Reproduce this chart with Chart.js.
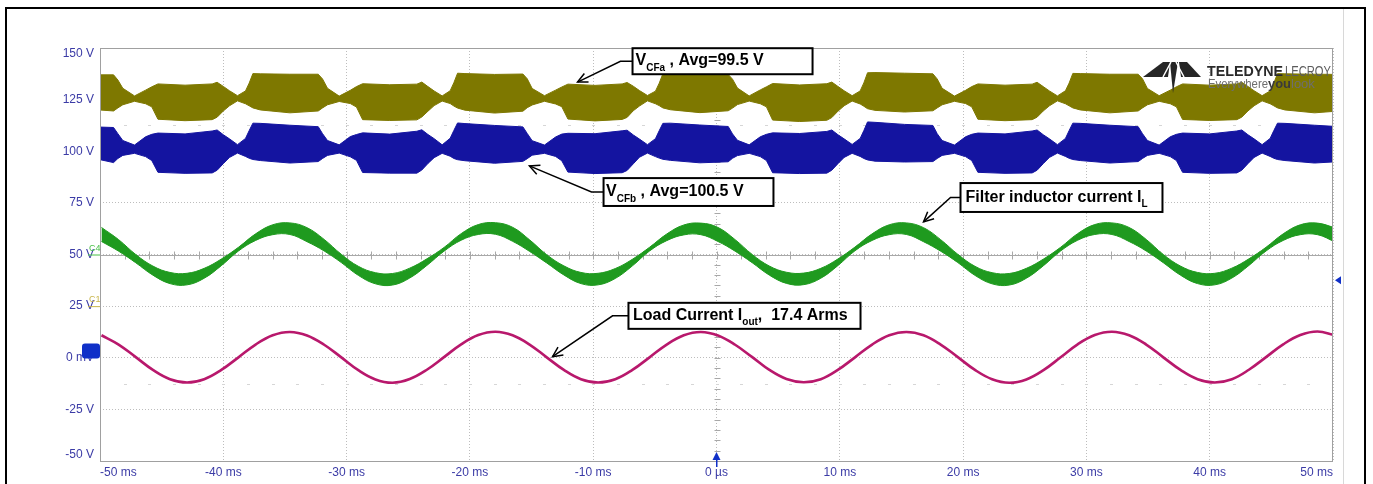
<!DOCTYPE html>
<html><head><meta charset="utf-8">
<script src="https://cdn.jsdelivr.net/npm/chart.js@4.4.1/dist/chart.umd.min.js"></script>
<style>html,body{margin:0;padding:0;background:#fff;}canvas{display:block}</style>
</head><body>
<canvas id="c" width="1373" height="484"></canvas>
<script>
// ---------- tick labels ----------
const xTickLabels = ["-50 ms","-40 ms","-30 ms","-20 ms","-10 ms","0 µs","10 ms","20 ms","30 ms","40 ms","50 ms"];
const yTickLabels = ["-50 V","-25 V","0 mV","25 V","50 V","75 V","100 V","125 V","150 V"];

// ---------- flying-capacitor voltage envelopes (time in ms, volts) ----------
const envT = [-50.5,-48.9,-48.55,-48.15,
 -47.2,-46.3,-45.8,-45.3,-43.1,-40.9,-40.5,-40.0,-39.5,-38.85,-38.2,-37.9,-37.6,-37.0,-34.6,-32.3,-31.95,-31.55,
 -30.6,-29.7,-29.2,-28.7,-26.5,-24.3,-23.9,-23.4,-22.9,-22.25,-21.6,-21.3,-21.0,-20.4,-18.0,-15.7,-15.35,-14.95,
 -13.95,-13.05,-12.55,-12.05,-9.85,-7.65,-7.25,-6.75,-6.25,-5.6,-4.95,-4.65,-4.35,-3.75,-1.35,0.95,1.3,1.7,
 2.65,3.55,4.05,4.55,6.75,8.95,9.35,9.85,10.35,11.0,11.65,11.95,12.25,12.85,15.25,17.55,17.9,18.3,
 19.3,20.2,20.7,21.2,23.4,25.6,26.0,26.5,27.0,27.65,28.3,28.6,28.9,29.5,31.9,34.2,34.55,34.95,
 35.9,36.8,37.3,37.8,40.0,42.2,42.6,43.1,43.6,44.25,44.9,45.2,45.5,46.1,48.5,50.5];
const cfaTop = [137.0,137.0,134.5,130.5,
 126.8,129.6,131.2,132.6,132.0,132.6,133.4,131.4,129.3,126.9,129.2,133.0,137.6,137.5,137.3,137.3,135.0,130.5,
 126.7,129.5,131.3,132.7,132.2,132.5,133.5,131.3,129.2,126.8,129.3,133.2,137.8,137.6,137.2,137.4,135.1,130.4,
 126.9,129.6,131.1,132.5,131.9,132.6,133.3,131.5,129.4,127.0,129.1,132.9,137.5,137.6,137.4,137.2,134.9,130.6,
 126.8,129.7,131.2,132.8,132.1,132.7,133.5,131.4,129.3,126.9,129.2,133.1,138.0,138.1,137.8,137.5,135.0,130.5,
 126.7,129.5,131.3,132.6,132.0,132.5,133.4,131.3,129.2,126.8,129.3,133.0,137.7,137.6,137.3,137.3,135.1,130.4,
 126.9,129.6,131.2,132.6,132.0,132.6,133.4,131.4,129.3,126.9,129.2,133.0,137.6,137.5,137.3,137.2];
const cfaBot = [120.2,119.5,121.0,122.5,
 124.2,123.0,121.5,115.5,114.8,115.3,116.5,119.5,122.0,124.4,123.0,122.0,121.0,120.0,118.6,119.5,121.0,122.5,
 124.1,123.1,121.4,115.3,114.9,115.2,116.6,119.4,122.1,124.3,123.1,121.9,120.9,119.9,118.5,119.4,121.1,122.4,
 124.2,122.9,121.6,115.6,114.7,115.4,116.4,119.6,121.9,124.4,123.0,122.1,121.0,120.1,118.7,119.6,120.9,122.6,
 124.3,123.0,121.5,115.1,114.4,115.0,116.3,119.4,122.0,124.3,122.9,121.8,120.6,119.8,119.0,119.6,121.0,122.5,
 124.2,123.1,121.5,115.5,114.8,115.3,116.5,119.5,122.0,124.4,123.0,122.0,121.0,120.0,118.6,119.5,121.0,122.5,
 124.2,123.0,121.5,115.4,114.9,115.3,116.5,119.5,122.0,124.4,123.0,122.0,121.0,120.0,118.6,119.5];
const cfbTop = [111.8,111.5,108.5,105.2,
 103.0,107.0,108.2,108.8,108.4,109.8,110.3,108.0,106.0,103.2,106.2,110.0,113.6,113.5,112.6,111.9,108.5,105.2,
 103.1,107.1,108.1,108.9,108.3,109.7,110.4,108.1,106.1,103.1,106.3,110.1,113.7,113.4,112.5,111.8,108.6,105.1,
 103.0,106.9,108.3,108.7,108.5,109.9,110.2,107.9,105.9,103.2,106.1,109.9,113.5,113.6,112.7,112.0,108.4,105.3,
 103.1,107.0,108.2,108.9,108.6,109.6,110.3,108.0,106.0,103.3,106.2,110.0,114.2,114.0,113.0,112.5,108.5,105.2,
 103.0,107.0,108.2,108.8,108.4,109.8,110.3,108.0,106.0,103.2,106.2,110.0,113.6,113.5,112.6,111.9,108.5,105.2,
 103.0,107.0,108.2,108.8,108.4,109.8,110.3,108.0,106.0,103.2,106.2,110.0,113.6,113.5,112.6,111.9];
const cfbBot = [96.6,94.5,96.5,98.0,
 99.0,97.4,95.5,89.8,89.3,89.5,90.8,94.0,97.0,99.1,97.5,96.6,96.0,95.5,94.3,95.0,96.5,98.0,
 99.1,97.3,95.6,89.7,89.4,89.4,90.9,94.1,96.9,99.0,97.6,96.5,95.9,95.4,94.2,95.1,96.4,98.1,
 99.0,97.5,95.4,89.9,89.2,89.6,90.7,93.9,97.1,99.1,97.4,96.7,96.1,95.6,94.4,94.9,96.6,97.9,
 99.0,97.4,95.5,89.6,89.2,89.4,90.8,94.0,97.0,99.0,97.5,96.5,95.8,95.2,94.8,95.0,96.5,98.0,
 99.0,97.4,95.5,89.8,89.3,89.5,90.8,94.0,97.0,99.1,97.5,96.6,96.0,95.5,94.3,95.0,96.5,98.0,
 99.0,97.4,95.5,89.8,89.3,89.5,90.8,94.0,97.0,99.1,97.5,96.6,96.0,95.5,94.3,95.0];

// ---------- sine-like traces (time in ms) ----------
const sineT = [-49.88,-48.49,-47.10,-45.71,-44.32,-42.94,-41.55,-40.16,-38.77,-37.38,-35.99,-34.60,
 -33.21,-31.82,-30.43,-29.05,-27.66,-26.27,-24.88,-23.49,-22.10,-20.71,-19.32,-17.93,
 -16.54,-15.16,-13.77,-12.38,-10.99,-9.60,-8.21,-6.82,-5.43,-4.04,-2.65,-1.27,
 0.12,1.51,2.90,4.29,5.68,7.07,8.46,9.84,11.23,12.62,14.01,15.40,
 16.79,18.18,19.57,20.96,22.35,23.74,25.13,26.52,27.91,29.29,30.68,32.07,
 33.46,34.85,36.24,37.63,39.02,40.41,41.80,43.18,44.57,45.96,47.35,48.74,50.13];
const loadI = [10.9,6.4,0.3,-5.9,-10.4,-12.0,-10.4,-5.9,0.2,6.4,10.9,12.5,
 10.8,6.3,0.2,-6.0,-10.5,-12.1,-10.3,-5.8,0.3,6.5,11.0,12.6,
 10.9,6.4,0.2,-5.9,-10.4,-12.0,-10.4,-5.9,0.2,6.4,10.9,12.5,
 10.8,6.3,0.3,-5.9,-10.3,-11.9,-10.4,-5.9,0.2,6.4,10.9,12.5,
 10.9,6.4,0.3,-5.9,-10.4,-12.1,-10.5,-6.0,0.2,6.5,11.0,12.6,
 10.9,6.4,0.2,-5.9,-10.4,-12.0,-10.4,-5.8,0.3,6.5,11.0,12.7,11.0];
const ilTop = [63.1,57.2,50.0,44.4,41.3,40.9,43.3,47.8,53.5,60.0,64.4,65.3,
 63.0,57.3,50.1,44.3,41.2,40.8,43.4,47.9,53.4,60.1,64.5,65.4,
 63.2,57.1,49.9,44.5,41.3,40.9,43.2,47.7,53.5,59.9,64.3,65.2,
 63.1,57.2,50.0,44.4,41.4,41.0,43.3,47.8,53.6,60.0,64.4,65.3,
 63.0,57.2,50.1,44.3,41.2,40.8,43.3,47.8,53.5,60.1,64.5,65.3,
 63.1,57.3,50.0,44.4,41.3,40.9,43.4,47.9,53.5,60.0,64.4,65.2,63.0];
const ilBot = [56.3,51.6,46.0,40.0,35.9,35.3,38.5,44.6,51.7,56.8,59.6,59.7,
 56.2,51.7,46.1,39.9,35.8,35.2,38.6,44.7,51.6,56.9,59.7,59.8,
 56.4,51.5,45.9,40.1,35.9,35.3,38.4,44.5,51.7,56.7,59.5,59.6,
 56.3,51.6,46.0,40.0,36.0,35.4,38.5,44.6,51.8,56.8,59.6,59.7,
 56.2,51.6,46.1,39.9,35.8,35.2,38.5,44.6,51.7,56.9,59.7,59.7,
 56.3,51.7,46.0,40.0,35.9,35.3,38.6,44.7,51.7,56.8,59.6,59.6,56.2];

// ---------- annotation texts ----------
const annotations = [
  {box:[-6.81,7.79,149.9,137.3], pad:3, elbowX:-7.79, head:[-11.27,133.5],
   parts:[{t:"V"},{t:"CFa",sub:true},{t:" , Avg=99.5 V"}]},
  {box:[-9.16,4.62,87.0,73.5], pad:2.5, elbowX:-10.14, head:[-15.17,92.9],
   parts:[{t:"V"},{t:"CFb",sub:true},{t:" , Avg=100.5 V"}]},
  {box:[19.79,36.17,84.6,70.6], pad:5, elbowX:18.98, head:[16.79,65.8],
   parts:[{t:"Filter inductor current I"},{t:"L",sub:true}]},
  {box:[-7.14,11.68,26.6,14.0], pad:4.5, elbowX:-8.43, head:[-13.3,0.5],
   parts:[{t:"Load Current I"},{t:"out",sub:true},{t:",  17.4 Arms"}]}
];

const pts = (xs, ys) => xs.map((x, i) => ({x: x, y: ys[i]}));
const FONT = '"Liberation Sans", Arial, sans-serif';
const OLIVE = '#7e7800', BLUE = '#1414a0', GREEN = '#1f9a1f', MAG = '#b8186c';
const AXC = '#3b3ba6';

const decor = {
  id: 'decor',
  beforeDatasetsDraw(chart) {
    const {ctx, chartArea: a, scales: {x, y}} = chart;
    ctx.save();
    ctx.strokeStyle = '#a8a8a8'; ctx.lineWidth = 1;
    const y50 = Math.round(y.getPixelForValue(50)) + 0.5;
    const x0 = Math.round(x.getPixelForValue(0)) + 0.5;
    ctx.beginPath(); ctx.moveTo(a.left, y50); ctx.lineTo(a.right, y50); ctx.stroke();
    ctx.beginPath();
    for (let t = -48; t < 50; t += 2) {
      const px = Math.round(x.getPixelForValue(t)) + 0.5;
      ctx.moveTo(px, y50 - 4); ctx.lineTo(px, y50 + 4);
    }
    for (let v = -45; v < 150; v += 5) {
      const py = Math.round(y.getPixelForValue(v)) + 0.5;
      ctx.moveTo(x0 - 3, py); ctx.lineTo(x0 + 3, py);
    }
    ctx.stroke();
    ctx.strokeStyle = '#d6d6d6';
    ctx.beginPath();
    [112.5, -12.5].forEach(v => {
      const py = Math.round(y.getPixelForValue(v)) + 0.5;
      for (let t = -48; t < 50; t += 2) {
        const px = Math.round(x.getPixelForValue(t)) + 0.5;
        ctx.moveTo(px - 1.5, py); ctx.lineTo(px + 1.5, py);
      }
    });
    ctx.stroke();
    ctx.restore();
  },
  afterDraw(chart) {
    const {ctx, chartArea: a, scales: {x, y}} = chart;
    const H = chart.height;
    ctx.save();
    ctx.strokeStyle = '#a0a0a0'; ctx.lineWidth = 1;
    ctx.strokeRect(a.left + 0.5, a.top + 0.5, a.right - a.left - 1, a.bottom - a.top);
    ctx.strokeStyle = '#d8d8d8';
    ctx.beginPath(); ctx.moveTo(1343.5, 8); ctx.lineTo(1343.5, H); ctx.stroke();
    ctx.fillStyle = '#000';
    ctx.fillRect(5, 7, 2, H - 7); ctx.fillRect(1364, 7, 2, H - 7);
    ctx.fillRect(5, 7, 1361, 2);

    ctx.fillStyle = '#1030c8';
    const my = y.getPixelForValue(3.5);
    ctx.beginPath(); ctx.roundRect(a.left - 18, my - 7, 18, 15, 3); ctx.fill();
    const ry = y.getPixelForValue(37.5);
    ctx.beginPath(); ctx.moveTo(a.right + 2, ry); ctx.lineTo(a.right + 8, ry - 4); ctx.lineTo(a.right + 8, ry + 4); ctx.closePath(); ctx.fill();
    const tx = x.getPixelForValue(0);
    ctx.beginPath(); ctx.moveTo(tx, a.bottom - 9); ctx.lineTo(tx - 4, a.bottom - 1); ctx.lineTo(tx + 4, a.bottom - 1); ctx.closePath(); ctx.fill();
    ctx.fillRect(tx - 0.5, a.bottom - 2, 1.5, 8);
    ctx.font = '9px ' + FONT;
    ctx.fillStyle = '#49c049'; ctx.fillText('C4', a.left - 11, y.getPixelForValue(50) - 4);
    ctx.strokeStyle = '#49c049'; ctx.beginPath(); ctx.moveTo(a.left - 12, y.getPixelForValue(50) + 0.5); ctx.lineTo(a.left, y.getPixelForValue(50) + 0.5); ctx.stroke();
    ctx.fillStyle = '#c8b448'; ctx.fillText('C1', a.left - 11, y.getPixelForValue(25) - 4);
    ctx.strokeStyle = '#c8b448'; ctx.beginPath(); ctx.moveTo(a.left - 12, y.getPixelForValue(25) + 0.5); ctx.lineTo(a.left, y.getPixelForValue(25) + 0.5); ctx.stroke();

    // logo
    ctx.fillStyle = '#262626';
    const poly = p => { ctx.beginPath(); ctx.moveTo(p[0][0], p[0][1]); p.slice(1).forEach(q => ctx.lineTo(q[0], q[1])); ctx.closePath(); ctx.fill(); };
    poly([[1143,77],[1163,62],[1170,62],[1168,77]]);
    poly([[1170,62],[1178,62],[1173,93]]);
    poly([[1179,62],[1187,62],[1201,77],[1181,77]]);
    ctx.strokeStyle = '#fff'; ctx.lineWidth = 1.5;
    ctx.beginPath(); ctx.moveTo(1163,77); ctx.lineTo(1171,62); ctx.moveTo(1176,62); ctx.lineTo(1184,77); ctx.stroke();
    ctx.textBaseline = 'alphabetic';
    ctx.font = 'bold 15px ' + FONT;
    ctx.fillStyle = '#2a2a2a';
    ctx.fillText('TELEDYNE', 1207, 76, 76);
    ctx.font = '15px ' + FONT;
    ctx.fillStyle = '#5c5c5c';
    ctx.fillText('LECROY', 1285, 76, 46);
    ctx.font = '13px ' + FONT;
    ctx.fillStyle = '#6e6e6e';
    ctx.fillText('Everywhere', 1208, 88, 60);
    ctx.font = 'bold 13px ' + FONT; ctx.fillStyle = '#3a3a3a';
    ctx.fillText('you', 1268, 88, 23);
    ctx.font = '13px ' + FONT; ctx.fillStyle = '#6e6e6e';
    ctx.fillText('look', 1291, 88, 27);

    annotations.forEach(an => {
      const L = x.getPixelForValue(an.box[0]), R = x.getPixelForValue(an.box[1]);
      const T = y.getPixelForValue(an.box[2]), B = y.getPixelForValue(an.box[3]);
      const mid = (T + B) / 2;
      const ex = x.getPixelForValue(an.elbowX);
      const hx = x.getPixelForValue(an.head[0]), hy = y.getPixelForValue(an.head[1]);
      ctx.strokeStyle = '#000'; ctx.lineWidth = 1.5;
      ctx.beginPath(); ctx.moveTo(L, mid); ctx.lineTo(ex, mid); ctx.lineTo(hx, hy); ctx.stroke();
      const ang = Math.atan2(hy - mid, hx - ex);
      ctx.beginPath();
      ctx.moveTo(hx - 11 * Math.cos(ang - 0.45), hy - 11 * Math.sin(ang - 0.45));
      ctx.lineTo(hx, hy);
      ctx.lineTo(hx - 11 * Math.cos(ang + 0.45), hy - 11 * Math.sin(ang + 0.45));
      ctx.stroke();
      ctx.fillStyle = '#fff'; ctx.fillRect(L, T, R - L, B - T);
      ctx.lineWidth = 2; ctx.strokeRect(L, T, R - L, B - T);
      ctx.fillStyle = '#000';
      let tx2 = L + an.pad;
      const base = mid + 4;
      an.parts.forEach(p => {
        ctx.font = (p.sub ? 'bold 10px ' : 'bold 16px ') + FONT;
        ctx.fillText(p.t, tx2, base + (p.sub ? 5.5 : 0));
        tx2 += ctx.measureText(p.t).width;
      });
    });
    ctx.restore();
  }
};

const lineDs = (data, color, extra) => Object.assign({
  data: data, borderColor: color, backgroundColor: color, borderWidth: 1,
  pointRadius: 0, tension: 0, fill: false
}, extra || {});

const yLabel = (v, i) => {
  const s = yTickLabels[i];
  if (i === 0) return [s, ''];
  if (i === yTickLabels.length - 1) return ['', s];
  return s;
};

new Chart(document.getElementById('c'), {
  type: 'line',
  data: {
    datasets: [
      lineDs(pts(envT, cfaTop), OLIVE, {fill: '+1'}),
      lineDs(pts(envT, cfaBot), OLIVE),
      lineDs(pts(envT, cfbTop), BLUE, {fill: '+1'}),
      lineDs(pts(envT, cfbBot), BLUE),
      lineDs(pts(sineT, ilTop), GREEN, {fill: '+1', tension: 0.4}),
      lineDs(pts(sineT, ilBot), GREEN, {tension: 0.4}),
      lineDs(pts(sineT, loadI), MAG, {borderWidth: 2.6, tension: 0.4})
    ]
  },
  options: {
    responsive: false, animation: false, devicePixelRatio: 1,
    layout: {padding: {left: 0, right: 40, top: 48, bottom: 0}},
    plugins: {legend: {display: false}, tooltip: {enabled: false}},
    scales: {
      x: {
        type: 'linear', min: -50, max: 50,
        afterFit: s => { s.height = 23; },
        ticks: {stepSize: 10, autoSkip: false, maxRotation: 0, align: 'inner', padding: 4,
          color: AXC, font: {family: FONT, size: 12},
          callback: (v, i) => xTickLabels[i]},
        grid: {color: '#bdbdbd', lineWidth: 1, drawTicks: false},
        border: {display: false, dash: [1, 2]}
      },
      y: {
        type: 'linear', min: -50, max: 150,
        afterFit: s => { s.width = 100; },
        ticks: {stepSize: 25, padding: 6, color: AXC, font: {family: FONT, size: 12, lineHeight: 1.0},
          callback: yLabel},
        grid: {color: '#bdbdbd', lineWidth: 1, drawTicks: false},
        border: {display: false, dash: [1, 2]}
      }
    }
  },
  plugins: [decor]
});
</script>
</body></html>
